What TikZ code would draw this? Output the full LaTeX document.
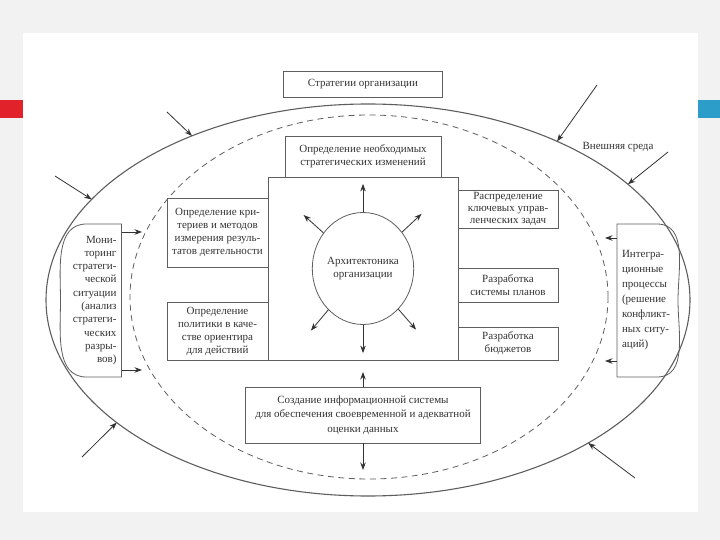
\documentclass[tikz,border=0pt]{standalone}
\usepackage{fontspec}
\setmainfont{Liberation Serif}
\usepackage{xcolor}
\definecolor{ink}{HTML}{333333}
\definecolor{rim}{HTML}{5E5E5E}
\definecolor{slidebg}{HTML}{F2F2F2}
\definecolor{barred}{HTML}{E2222A}
\definecolor{barblue}{HTML}{2C9CC8}
\usepackage{tikz}
\usetikzlibrary{arrows.meta,positioning,shapes.geometric,calc}

\begin{document}
\begin{tikzpicture}[
  x=1pt, y=-1pt,
  font=\fontsize{11}{13}\selectfont,
  text=ink,
  >={Stealth[length=7.5pt,width=5.5pt]},
  edge/.style={draw=rim, line width=0.8pt},
  box/.style={edge, fill=white, align=center, inner sep=1pt, outer sep=0pt},
  side/.style={inner xsep=5pt, inner ysep=0pt, outer sep=0pt, minimum height=153pt, text width=51pt},
  arr/.style={->, draw=ink, line width=0.8pt},
]
\useasboundingbox (0,0) rectangle (720,540);
% Slide
\fill[slidebg] (0,0) rectangle (720,540);
\fill[white] (23,33) rectangle (698,512);
\fill[barred] (0,100) rectangle (23,118);
\fill[barblue] (698,100) rectangle (720,118);

% Environment
\node[ellipse, edge, line width=1.1pt, outer sep=0pt, minimum width=644pt, minimum height=392pt] (env) at (368,300) {};
\node[ellipse, draw=rim, line width=0.8pt, dash pattern=on 6pt off 4.5pt, minimum width=478pt, minimum height=364pt] (zone) at (369,297) {};
\node (envlbl) at (618,147) {Внешняя среда};
\foreach \sx/\sy/\a [count=\i] in {167/112/137, 55/176/160, 597/85/40, 668/152/24, 82/457/206, 635/478/327} {
  \coordinate (ext\i) at (\sx,\sy);
  \draw[arr] (ext\i) -- (env.\a);
}

% Core
\node[box, minimum width=190pt, minimum height=183pt] (core) at (363,268.5) {};
\node[ellipse, edge, align=center, inner sep=0pt, minimum width=100pt, minimum height=112pt] (arch) at (core.center) {Архитектоника\\организации};
\foreach \a in {90,138,43,230,311,270} {
  \coordinate (tip\a) at ($(arch.center)!1.5!(arch.\a)$);
  \draw[arr] (arch.\a) -- (tip\a);
}
\node[box, above=0pt of core, minimum width=156pt, minimum height=41pt] (need) {Определение необходимых\\стратегических изменений};
\node[box, above=39pt of need, minimum width=159pt, minimum height=26pt] (strat) {Стратегии организации};

% Left and right columns
\node[box, below left=21pt and 0pt of core.north west, minimum width=101pt, minimum height=69pt] (crit) {Определение кри-\\териев и методов\\измерения резуль-\\татов деятельности};
\node[box, above left=0pt and 0pt of core.south west, minimum width=101pt, minimum height=58pt] (policy) {Определение\\политики в каче-\\стве ориентира\\для действий};
\node[box, below right=13pt and 0pt of core.north east, minimum width=100pt, minimum height=38pt, font=\fontsize{11}{12}\selectfont] (tasks) {Распределение\\ключевых управ-\\ленческих задач};
\node[box, below right=91pt and 0pt of core.north east, minimum width=100pt, minimum height=34pt] (plans) {Разработка\\системы планов};
\node[box, above right=0pt and 0pt of core.south east, minimum width=100pt, minimum height=33pt] (budget) {Разработка\\бюджетов};

% Information system
\node[box, below=27pt of core, minimum width=235pt, minimum height=56pt, font=\fontsize{11}{14.5}\selectfont] (info) {Создание информационной системы\\для обеспечения своевременной и адекватной\\оценки данных};
\coordinate (up) at (363,372);
\coordinate (down) at (363,470);
\draw[arr] (info.north) -- (up);
\draw[arr] (info.south) -- (down);

% Side blocks
\node[side, align=right, font=\fontsize{11}{13.3}\selectfont] (mon) at (91,300.5) {Мони-\\торинг\\стратеги-\\ческой\\ситуации\\(анализ\\стратеги-\\ческих\\разры-\\вов)};
\draw[edge] (mon.north east) -- ([xshift=26pt]mon.north west) to[out=180,in=90] (mon.west) to[out=270,in=180] ([xshift=26pt]mon.south west) -- (mon.south east) -- cycle;
\node[side, align=left, font=\fontsize{11}{15}\selectfont] (integr) at (647.5,300.5) {Интегра-\\ционные\\процессы\\(решение\\конфликт-\\ных ситу-\\аций)};
\draw[edge] (integr.north west) -- ([xshift=-21pt]integr.north east) to[out=0,in=90] (integr.east) to[out=270,in=0] ([xshift=-21pt]integr.south east) -- (integr.south west) -- cycle;
\coordinate (m1) at (142,232);
\coordinate (m2) at (142,370);
\coordinate (i1) at (605,238);
\coordinate (i2) at (605,361);
\draw[arr] (mon.east |- m1) -- (m1);
\draw[arr] (mon.east |- m2) -- (m2);
\draw[arr] (integr.west |- i1) -- (i1);
\draw[arr] (integr.west |- i2) -- (i2);
\end{tikzpicture}
\end{document}
